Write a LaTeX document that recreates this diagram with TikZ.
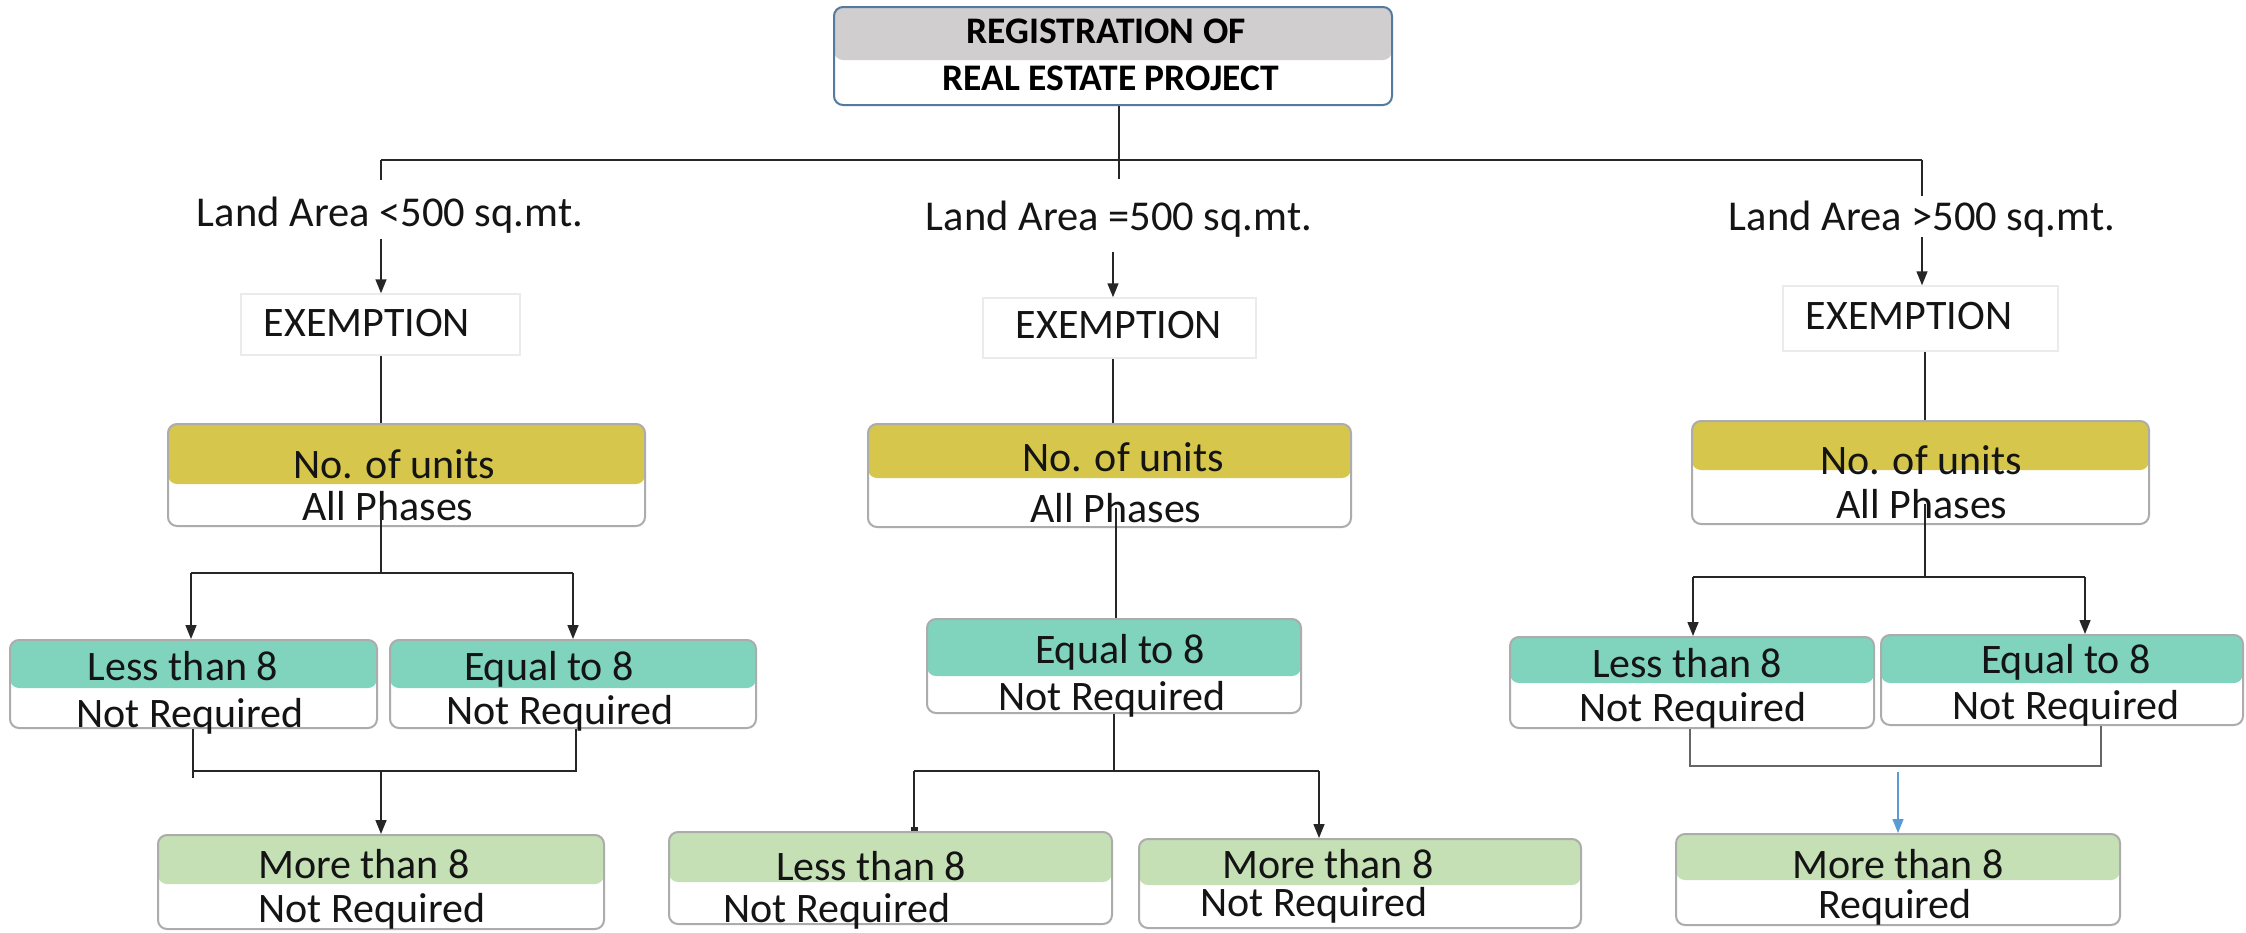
\documentclass[tikz,border=0pt]{standalone}
\usepackage{fontspec}
\setmainfont{Carlito}
\usetikzlibrary{arrows.meta}
\definecolor{ttlgray}{RGB}{208,206,206}
\definecolor{ttlborder}{RGB}{84,122,160}
\definecolor{unityel}{RGB}{214,198,76}
\definecolor{tealc}{RGB}{128,212,190}
\definecolor{greenc}{RGB}{197,224,180}
\definecolor{bluearr}{RGB}{91,155,213}
\tikzset{
  box/.style={draw=gray!65, line width=2pt, rounded corners=9pt, fill=white, inner sep=0pt},
  exbox/.style={draw=black!8, line width=1.5pt, fill=white, inner sep=0pt},
  txt/.style={inner sep=0pt, anchor=mid, yshift=-9pt, font=\fontsize{42}{50}\selectfont, text=black!92},
  lbl/.style={txt, font=\fontsize{42.5}{51}\selectfont},
  ttl/.style={inner sep=0pt, anchor=mid, yshift=-8.5pt, font=\bfseries\fontsize{37.5}{45}\selectfont},
  conn/.style={line width=1.5pt, draw=black!85},
  arr/.style={conn, -{Triangle[length=14pt,width=11pt]}},
}
\newcommand\mybox[8]{%
  \node[box,#8,minimum width={(#4-#2)*1pt},minimum height={(#5-#3)*1pt},
    path picture={\fill[#7] (path picture bounding box.north west) rectangle ([yshift={-(#6-#3)*1pt}]path picture bounding box.north east);}]
    (#1) at ({(#2+#4)/2},{(#3+#5)/2}) {};}
\begin{document}
\begin{tikzpicture}[x=1pt,y=-1pt]
\useasboundingbox[fill=white] (0,0) rectangle (2246,932);

% title
\mybox{top}{834}{7}{1392}{105}{60}{ttlgray}{draw=ttlborder}
\node[ttl] (t1) at (1106,33) {REGISTRATION OF};
\node[ttl] (t2) at (1111,80) {REAL ESTATE PROJECT};

% land area labels
\node[lbl] (laL) at (390,215) {Land Area <500 sq.mt.};
\node[lbl] (laM) at (1119,219) {Land Area =500 sq.mt.};
\node[lbl] (laR) at (1922,219) {Land Area >500 sq.mt.};

% exemption boxes
\node[exbox, minimum width=279pt, minimum height=61pt] (exL) at (380.5,324.5) {};
\node[txt] (exLt) at (367,325) {EXEMPTION};
\node[exbox, minimum width=273pt, minimum height=60pt] (exM) at (1119.5,328) {};
\node[txt] (exMt) at (1119,327) {EXEMPTION};
\node[exbox, minimum width=275pt, minimum height=65pt] (exR) at (1920.5,318.5) {};
\node[txt] (exRt) at (1909,318) {EXEMPTION};

% no. of units boxes
\mybox{nuL}{168}{424}{645}{526}{484}{unityel}{}
\node[txt] (nuLa) at (394,467) {No. of units};
\node[txt] (nuLb) at (388,509) {All Phases};
\mybox{nuM}{868}{424}{1351}{527}{478}{unityel}{}
\node[txt] (nuMa) at (1123,460) {No. of units};
\node[txt] (nuMb) at (1116,511) {All Phases};
\mybox{nuR}{1692}{421}{2149}{524}{470}{unityel}{}
\node[txt] (nuRa) at (1921,463) {No. of units};
\node[txt] (nuRb) at (1922,507) {All Phases};

% third level
\mybox{ltL}{10}{640}{377}{728}{688}{tealc}{}
\node[txt] (ltLa) at (183,669) {Less than 8};
\node[txt] (ltLb) at (190,716) {Not Required};
\mybox{eqL}{390}{640}{756}{728}{688}{tealc}{}
\node[txt] (eqLa) at (549,669) {Equal to 8};
\node[txt] (eqLb) at (560,713) {Not Required};
\mybox{eqM}{927}{619}{1301}{713}{676}{tealc}{}
\node[txt] (eqMa) at (1120,652) {Equal to 8};
\node[txt] (eqMb) at (1112,699) {Not Required};
\mybox{ltR}{1510}{637}{1874}{728}{683}{tealc}{}
\node[txt] (ltRa) at (1687,666) {Less than 8};
\node[txt] (ltRb) at (1693,710) {Not Required};
\mybox{eqR}{1881}{635}{2243}{725}{683}{tealc}{}
\node[txt] (eqRa) at (2066,662) {Equal to 8};
\node[txt] (eqRb) at (2066,708) {Not Required};

% fourth level
\mybox{mtL}{158}{835}{604}{929}{884}{greenc}{}
\node[txt] (mtLa) at (364,867) {More than 8};
\node[txt] (mtLb) at (372,911) {Not Required};
\mybox{ltM}{669}{832}{1112}{924}{882}{greenc}{}
\node[txt] (ltMa) at (871,869) {Less than 8};
\node[txt] (ltMb) at (837,911) {Not Required};
\mybox{mtM}{1139}{839}{1581}{928}{885}{greenc}{}
\node[txt] (mtMa) at (1328,867) {More than 8};
\node[txt] (mtMb) at (1314,905) {Not Required};
\mybox{mtR}{1676}{834}{2120}{925}{880}{greenc}{}
\node[txt] (mtRa) at (1898,867) {More than 8};
\node[txt] (mtRb) at (1895,907) {Required};

% ---- connectors ----
\coordinate (jT) at (1119,160);
\coordinate (hL) at (381,160);
\coordinate (hR) at (1922,160);
\coordinate (sL) at (381,180);
\coordinate (sM) at (1119,179);
\coordinate (sR) at (1922,196);
\draw[conn] (top.south -| jT) -- (jT);
\draw[conn] (hL) -- (hR);
\draw[conn] (hL) -- (sL);
\draw[conn] (jT) -- (sM);
\draw[conn] (hR) -- (sR);

% label -> exemption
\coordinate (aL) at (381,239);
\coordinate (aM) at (1113,252);
\coordinate (aR) at (1922,237);
\draw[arr] (aL) -- (aL |- exL.north);
\draw[arr] (aM) -- (aM |- exM.north);
\draw[arr] (aR) -- (aR |- exR.north);

% exemption -> no. of units
\draw[conn] (aL |- exL.south) -- (aL |- nuL.north);
\draw[conn] (aM |- exM.south) -- (aM |- nuM.north);
\coordinate (cR) at (1925,351);
\draw[conn] (cR |- exR.south) -- (cR |- nuR.north);

% left branch
\coordinate (bL) at (381,573);
\coordinate (bL1) at (191,573);
\coordinate (bL2) at (573,573);
\draw[conn] (bL |- nuLb.center) -- (bL);
\draw[conn] (bL1) -- (bL2);
\draw[arr] (bL1) -- (bL1 |- ltL.north);
\draw[arr] (bL2) -- (bL2 |- eqL.north);
\coordinate (mL1) at (193,771);
\coordinate (mL2) at (576,771);
\coordinate (mL) at (381,771);
\draw[conn] (mL1 |- ltL.south) -- ([yshift=-7pt]mL1);
\draw[conn] (mL1) -- (mL2) -- (mL2 |- eqL.south);
\draw[arr] (mL) -- (mL |- mtL.north);

% middle branch
\coordinate (cM) at (1116,600);
\draw[conn] (cM |- nuMb.center) -- (cM |- eqM.north);
\coordinate (bM) at (1114,771);
\coordinate (bM1) at (914,771);
\coordinate (bM2) at (1319,771);
\draw[conn] (bM |- eqM.south) -- (bM);
\draw[conn] (bM1) -- (bM2);
\draw[conn, -{Rectangle[length=4pt,width=7pt]}] (bM1) -- (bM1 |- ltM.north);
\draw[arr] (bM2) -- (bM2 |- mtM.north);

% right branch
\coordinate (bR) at (1925,577);
\coordinate (bR1) at (1693,577);
\coordinate (bR2) at (2085,577);
\draw[conn] (bR |- nuRb.center) -- (bR);
\draw[conn] (bR1) -- (bR2);
\draw[arr] (bR1) -- (bR1 |- ltR.north);
\draw[arr] (bR2) -- (bR2 |- eqR.north);
\coordinate (mR1) at (1690,766);
\coordinate (mR2) at (2101,766);
\draw[conn, draw=black!60] (mR1 |- ltR.south) -- (mR1) -- (mR2) -- (mR2 |- eqR.south);
\coordinate (mR) at (1898,772);
\draw[line width=1.5pt, draw=bluearr, -{Triangle[length=14pt,width=11pt]}] (mR) -- (mR |- mtR.north);
\end{tikzpicture}
\end{document}
